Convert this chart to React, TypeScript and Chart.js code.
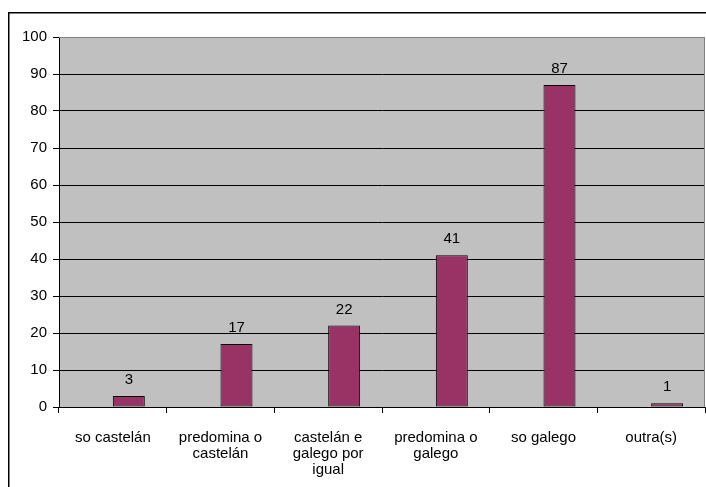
import React, { useEffect, useRef } from "react";
import { Chart, registerables } from "chart.js";

Chart.register(...registerables);

const categories: (string | string[])[] = [
  "so castelán",
  ["predomina o", "castelán"],
  ["castelán e", "galego por", "igual"],
  ["predomina o", "galego"],
  "so galego",
  "outra(s)",
];
const values: number[] = [3, 17, 22, 41, 87, 1];
const emptySeries: (number | null)[] = [null, null, null, null, null, null];
const yTicks = { min: 0, max: 100, step: 10 };

const FONT = "'Liberation Sans', Arial, sans-serif";

const framePlugin = {
  id: "frameAndBg",
  beforeDraw(chart: any) {
    const { ctx, chartArea } = chart;
    ctx.save();
    ctx.fillStyle = "#C0C0C0";
    ctx.fillRect(chartArea.left, chartArea.top, chartArea.right - chartArea.left, chartArea.bottom - chartArea.top);
    ctx.fillStyle = "#000000";
    ctx.fillRect(8, 12, 720, 1.5);
    ctx.fillRect(8, 12, 1.5, 500);
    ctx.restore();
  },
  afterDraw(chart: any) {
    const { ctx, chartArea } = chart;
    ctx.save();
    ctx.strokeStyle = "#808080";
    ctx.lineWidth = 1;
    ctx.beginPath();
    ctx.moveTo(chartArea.left, chartArea.top + 0.5);
    ctx.lineTo(chartArea.right, chartArea.top + 0.5);
    ctx.moveTo(chartArea.right - 0.5, chartArea.top);
    ctx.lineTo(chartArea.right - 0.5, chartArea.bottom);
    ctx.stroke();
    ctx.restore();
  },
};

const labelPlugin = {
  id: "valueLabels",
  afterDatasetsDraw(chart: any) {
    const { ctx } = chart;
    const meta = chart.getDatasetMeta(1);
    ctx.save();
    ctx.fillStyle = "#000000";
    ctx.font = `15px ${FONT}`;
    ctx.textAlign = "center";
    ctx.textBaseline = "alphabetic";
    meta.data.forEach((bar: any, i: number) => {
      ctx.fillText(String(values[i]), bar.x, bar.y - 12);
    });
    ctx.restore();
  },
};

export default function App() {
  const ref = useRef<HTMLCanvasElement>(null);
  useEffect(() => {
    if (!ref.current) return;
    const chart = new Chart(ref.current, {
      type: "bar",
      data: {
        labels: categories,
        datasets: [
          { data: emptySeries, backgroundColor: "transparent" },
          {
            data: values,
            backgroundColor: "#993366",
            borderColor: "#000000",
            borderWidth: 1,
            borderSkipped: false,
          },
        ],
      },
      options: {
        responsive: false,
        animation: false,
        datasets: { bar: { categoryPercentage: 0.594, barPercentage: 1 } },
        layout: { padding: { left: 0, top: 37, right: 1, bottom: 0 } },
        plugins: { legend: { display: false }, tooltip: { enabled: false } },
        scales: {
          x: {
            afterFit: (s: any) => {
              s.height = 80;
            },
            grid: {
              drawOnChartArea: false,
              offset: true,
              tickLength: 6,
              color: "#000000",
            },
            border: { color: "#000000" },
            ticks: {
              color: "#000000",
              font: { family: FONT, size: 15, lineHeight: 16 / 15 },
              padding: 17,
              maxRotation: 0,
              autoSkip: false,
            },
          },
          y: {
            min: yTicks.min,
            max: yTicks.max,
            afterFit: (s: any) => {
              s.width = 59;
            },
            grid: {
              color: (c: any) => (c.tick && c.tick.value === 100 ? "#808080" : "#000000"),
              tickColor: "#000000",
              tickLength: 6,
            },
            border: { color: "#000000" },
            ticks: {
              stepSize: yTicks.step,
              color: "#000000",
              font: { family: FONT, size: 15 },
              padding: 6,
            },
          },
        },
      },
      plugins: [framePlugin, labelPlugin],
    });
    return () => chart.destroy();
  }, []);
  return (
    <div style={{ position: "absolute", left: 0, top: 0, width: 706, height: 487, background: "#fff" }}>
      <canvas ref={ref} width={706} height={487} style={{ width: 706, height: 487, display: "block" }} />
    </div>
  );
}
